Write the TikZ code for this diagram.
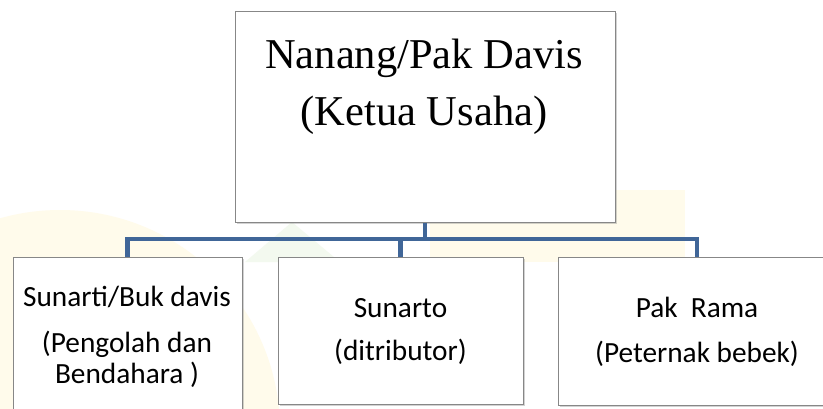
\documentclass[tikz,border=0pt]{standalone}
\usepackage{fontspec}
\newfontfamily\headfont{Liberation Serif}
\newfontfamily\bodyfont{Carlito}
\usetikzlibrary{shadows}
\definecolor{busblue}{RGB}{64,102,152}
\definecolor{edgegrey}{RGB}{135,135,135}
\definecolor{wmyellow}{RGB}{255,251,235}
\definecolor{wmgreen}{RGB}{243,249,239}
\tikzset{
  orgbox/.style={draw=edgegrey, line width=1pt, fill=white, inner sep=0pt,
    drop shadow={opacity=0.35, shadow xshift=1.5pt, shadow yshift=-2pt}},
  headtext/.style={anchor=base, inner sep=0pt, font=\headfont\fontsize{42.5}{50}\selectfont},
  bodytext/.style={anchor=base, inner sep=0pt, font=\bodyfont\fontsize{29.3}{35}\selectfont},
  conn/.style={busblue, line width=4.5pt}
}
\begin{document}
\begin{tikzpicture}[x=1pt, y=-1pt]
    \useasboundingbox (0, 0) rectangle (823, 408);
    \fill[white] (0, 0) rectangle (823, 408);

    % faint watermark
    \begin{scope}
      \clip (0, 0) rectangle (823, 408);
      \fill[wmyellow] (60, 430) circle (220);
      \fill[wmyellow] (430, 190) rectangle (685, 262);
      \fill[wmgreen] (292, 222) -- (340, 262) -- (245, 262) -- cycle;
    \end{scope}

    % boxes
    \node[orgbox, minimum width=380, minimum height=211] (ketua) at (425, 116.5) {};
    \node[orgbox, minimum width=229, minimum height=163] (bendahara) at (127.5, 338.5) {};
    \node[orgbox, minimum width=245, minimum height=147] (distributor) at (400.5, 330.5) {};
    \node[orgbox, minimum width=278, minimum height=148] (peternak) at (697, 331) {};

    % texts
    \node[headtext] (ketuaA) at (424, 68) {Nanang/Pak Davis};
    \node[headtext] (ketuaB) at (424, 125) {(Ketua Usaha)};

    \node[bodytext] (bendaharaA) at (127, 306) {Sunarti/Buk davis};
    \node[bodytext] (bendaharaB) at (127, 352) {(Pengolah dan};
    \node[bodytext] (bendaharaC) at (127, 383) {Bendahara )};

    \node[bodytext] (distributorA) at (400.5, 317) {Sunarto};
    \node[bodytext] (distributorB) at (400.5, 360) {(ditributor)};

    \node[bodytext] (peternakA) at (697, 317) {Pak\ \ Rama};
    \node[bodytext] (peternakB) at (697, 362) {(Peternak bebek)};

    % connectors
    \coordinate (bus) at (ketua.south |- 0, 239);
    \draw[conn] (ketua.south) -- (bus);
    \draw[conn] (bus) -| (bendahara.north);
    \draw[conn] (bus) -| (distributor.north);
    \draw[conn] (bus) -| (peternak.north);
\end{tikzpicture}
\end{document}
